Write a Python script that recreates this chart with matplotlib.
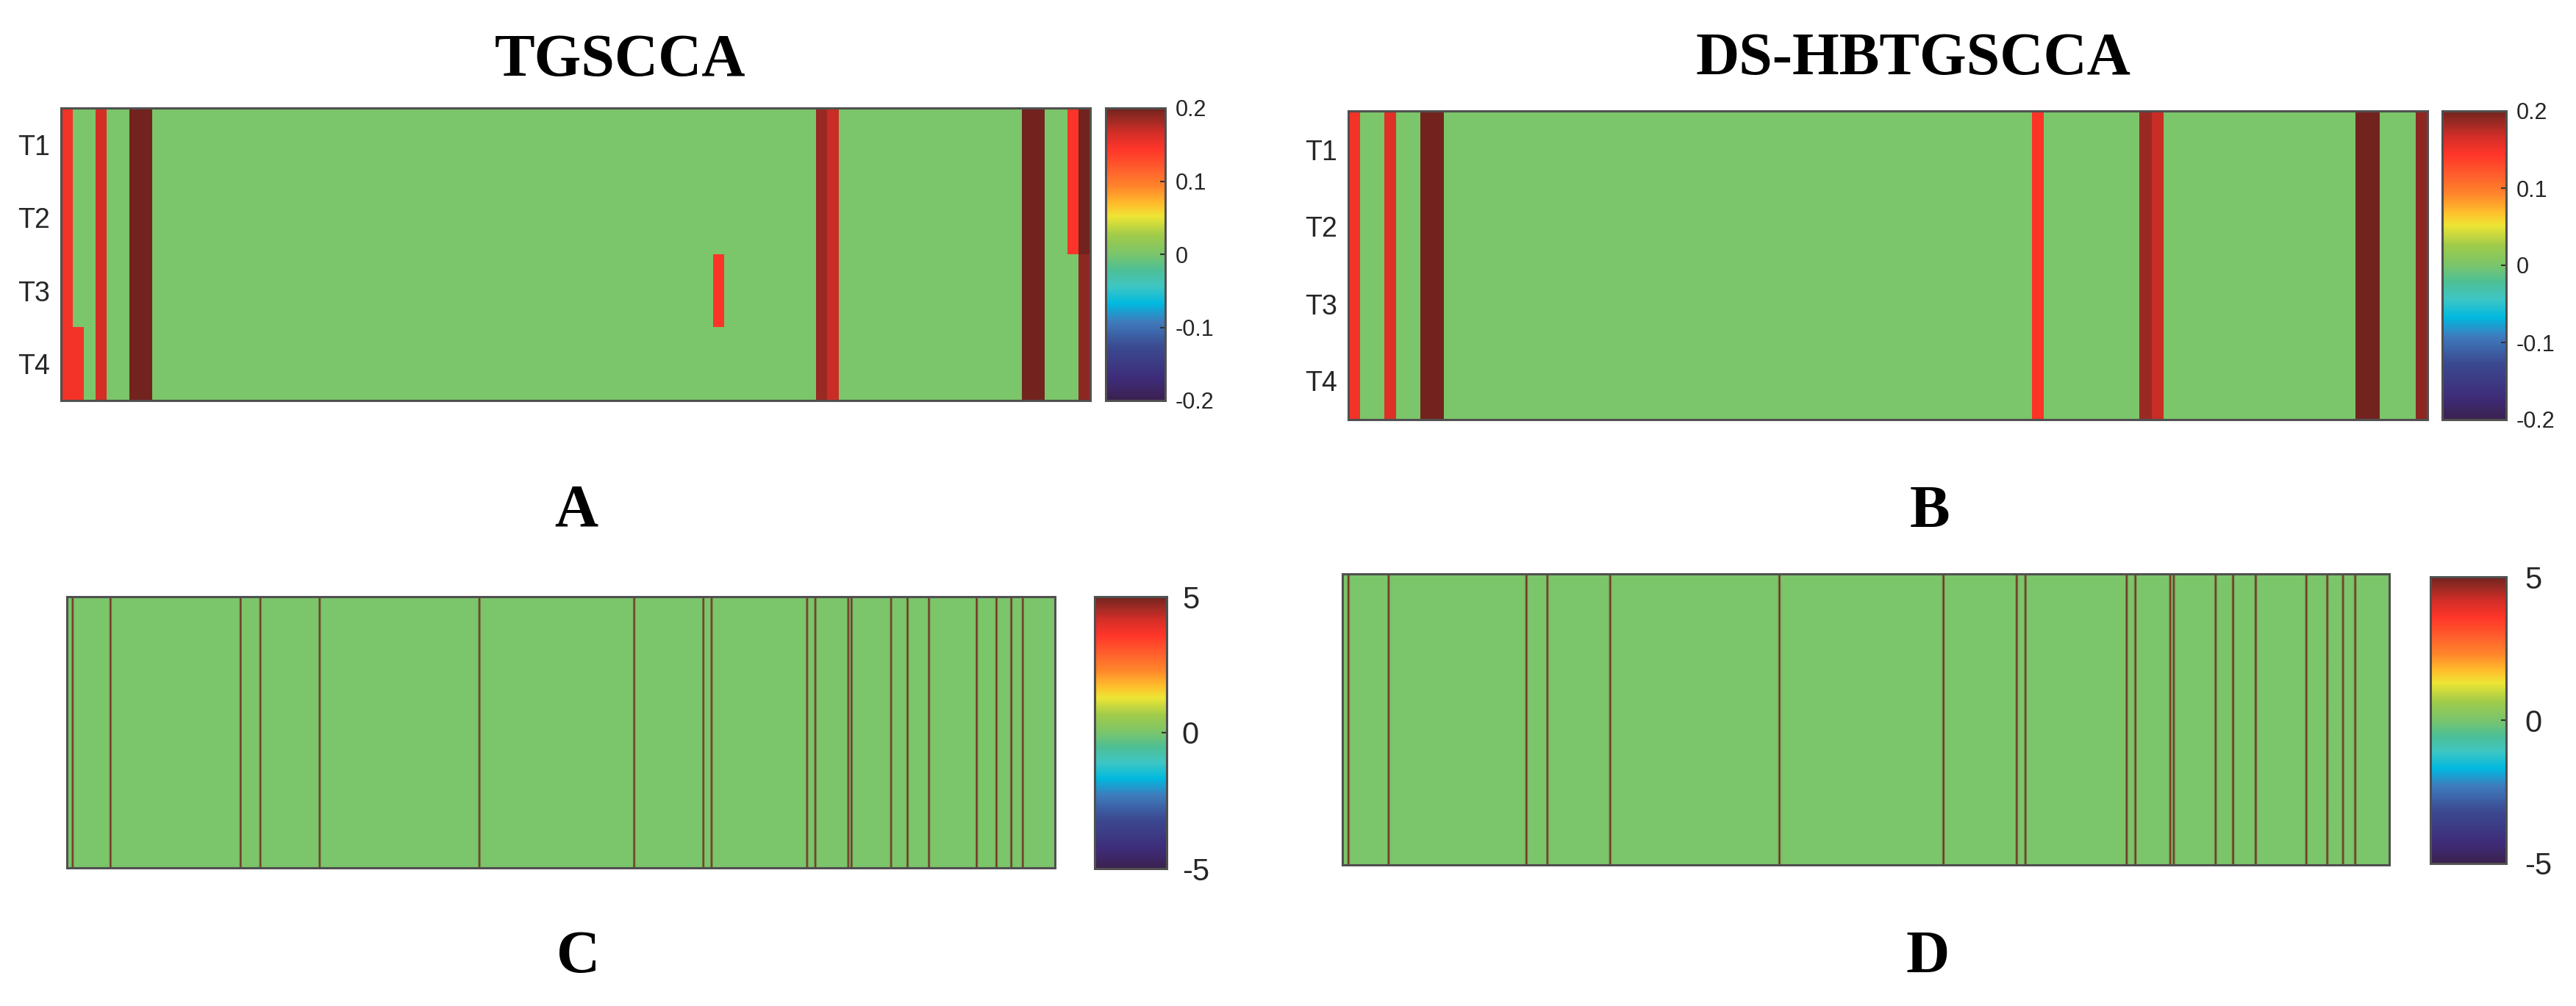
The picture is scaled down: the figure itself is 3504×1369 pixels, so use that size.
import numpy as np
import matplotlib.pyplot as plt
from matplotlib.colors import LinearSegmentedColormap

# ---- data ----
tasks = ["T1", "T2", "T3", "T4"]
n_top = 90                      # columns in panels A and B

# TGSCCA (panel A): column index -> values for T1..T4
tg_cols = [0, 1, 3, 6, 7, 57, 66, 67, 84, 85, 88, 89]
tg_vals = [
    [0.15, 0.15, 0.15, 0.15],
    [0.0, 0.0, 0.0, 0.15],
    [0.165, 0.165, 0.165, 0.165],
    [0.2, 0.2, 0.2, 0.2],
    [0.2, 0.2, 0.2, 0.2],
    [0.0, 0.0, 0.145, 0.0],
    [0.185, 0.185, 0.185, 0.185],
    [0.17, 0.17, 0.17, 0.17],
    [0.2, 0.2, 0.2, 0.2],
    [0.2, 0.2, 0.2, 0.2],
    [0.145, 0.145, 0.0, 0.0],
    [0.2, 0.2, 0.19, 0.19],
]

# DS-HBTGSCCA (panel B): same weight in every task
ds_cols = [0, 3, 6, 7, 57, 66, 67, 84, 85, 89]
ds_vals = [0.15, 0.16, 0.2, 0.2, 0.145, 0.185, 0.17, 0.2, 0.2, 0.19]

# panels C and D: long vector, selected positions carry a high weight
n_bottom = 600
snp_sel = [3, 26, 105, 117, 153, 250, 344, 386, 391, 449, 454, 474, 476,
           500, 510, 523, 552, 564, 573, 580]
sel_val = 5.0

top_ticks = [-0.2, -0.1, 0, 0.1, 0.2]
top_ticklabels = ["-0.2", "-0.1", "0", "0.1", "0.2"]
bot_ticks = [-5, 0, 5]
bot_ticklabels = ["-5", "0", "5"]

# colormap as it appears in the colorbars
cmap_stops = [
    (0.00, "#3b2150"), (0.07, "#3e2c78"), (0.18, "#3b4990"),
    (0.27, "#3e7cbd"), (0.33, "#00b9df"), (0.39, "#3ec6c4"),
    (0.445, "#4cbf96"), (0.50, "#7ac56b"), (0.565, "#a0cb4a"),
    (0.63, "#ede534"), (0.67, "#ffc02c"), (0.73, "#ff862b"),
    (0.80, "#ff5a2c"), (0.86, "#ff3529"), (0.92, "#d12e27"),
    (0.96, "#a02a24"), (1.00, "#72231e"),
]
cmap = LinearSegmentedColormap.from_list("weights", cmap_stops)

# ---- build the matrices ----
A = np.zeros((len(tasks), n_top))
for c, v in zip(tg_cols, tg_vals):
    A[:, c] = v

B = np.zeros((len(tasks), n_top))
for c, v in zip(ds_cols, ds_vals):
    B[:, c] = v

C = np.zeros((1, n_bottom))
C[0, snp_sel] = sel_val
D = C.copy()

# ---- figure ----
W, H = 3505, 1369
plt.rcParams["font.family"] = ["Liberation Sans", "DejaVu Sans"]
fig = plt.figure(figsize=(W / 100, H / 100), dpi=100)


def box(x0, y0, x1, y1):
    # pixel box (top-left origin) -> figure fraction
    return [x0 / W, 1 - y1 / H, (x1 - x0) / W, (y1 - y0) / H]


frame_col = "#505050"


def heat(pos, data, vmin, vmax, ylabels=None, smooth=False):
    ax = fig.add_axes(box(*pos))
    if smooth:
        # blend thin columns in rgb space, like the soft brown lines
        im = ax.imshow(data, aspect="auto", interpolation="bilinear",
                       interpolation_stage="rgba",
                       cmap=cmap, vmin=vmin, vmax=vmax)
    else:
        im = ax.imshow(data, aspect="auto", interpolation="nearest",
                       cmap=cmap, vmin=vmin, vmax=vmax)
    ax.set_xticks([])
    if ylabels is None:
        ax.set_yticks([])
    else:
        ax.set_yticks(range(len(ylabels)))
        ax.set_yticklabels(ylabels)
        ax.tick_params(axis="y", length=0, pad=11, labelsize=27,
                       labelcolor="#262626")
    for sp in ax.spines.values():
        sp.set_linewidth(2.2)
        sp.set_color(frame_col)
    return im


def cbar(im, pos, ticks, labels, size, pad):
    cax = fig.add_axes(box(*pos))
    cb = fig.colorbar(im, cax=cax, ticks=ticks)
    cb.ax.set_yticklabels(labels)
    cb.ax.tick_params(direction="in", length=5, width=1.5, colors="#333333",
                      labelsize=size, pad=pad, labelcolor="#262626")
    cb.outline.set_linewidth(2.2)
    cb.outline.set_edgecolor(frame_col)


imA = heat((83, 147, 1483, 545), A, -0.2, 0.2, tasks)
cbar(imA, (1504, 147, 1585, 545), top_ticks, top_ticklabels, 22, 10)

imB = heat((1834, 151, 3302, 571), B, -0.2, 0.2, tasks)
cbar(imB, (3322, 151, 3409, 571), top_ticks, top_ticklabels, 22, 10)

imC = heat((91, 812, 1435, 1181), C, -5, 5, smooth=True)
cbar(imC, (1489, 812, 1587, 1182), bot_ticks, bot_ticklabels, 30, 15)

imD = heat((1826, 781, 3250, 1177), D, -5, 5, smooth=True)
cbar(imD, (3306, 785, 3409, 1175), bot_ticks, bot_ticklabels, 30, 18)

# titles and panel letters
serif = dict(family=["Liberation Serif", "DejaVu Serif"], fontweight="bold",
             fontsize=59, ha="center", va="baseline")
fig.text(844 / W, 1 - 103 / H, "TGSCCA", **serif)
fig.text(2602 / W, 1 - 101 / H, "DS-HBTGSCCA", **serif)
fig.text(784 / W, 1 - 715 / H, "A", **serif)
fig.text(2625 / W, 1 - 717 / H, "B", **serif)
fig.text(787 / W, 1 - 1323 / H, "C", **serif)
fig.text(2622 / W, 1 - 1323 / H, "D", **serif)

fig.savefig("out.png", dpi=100)
